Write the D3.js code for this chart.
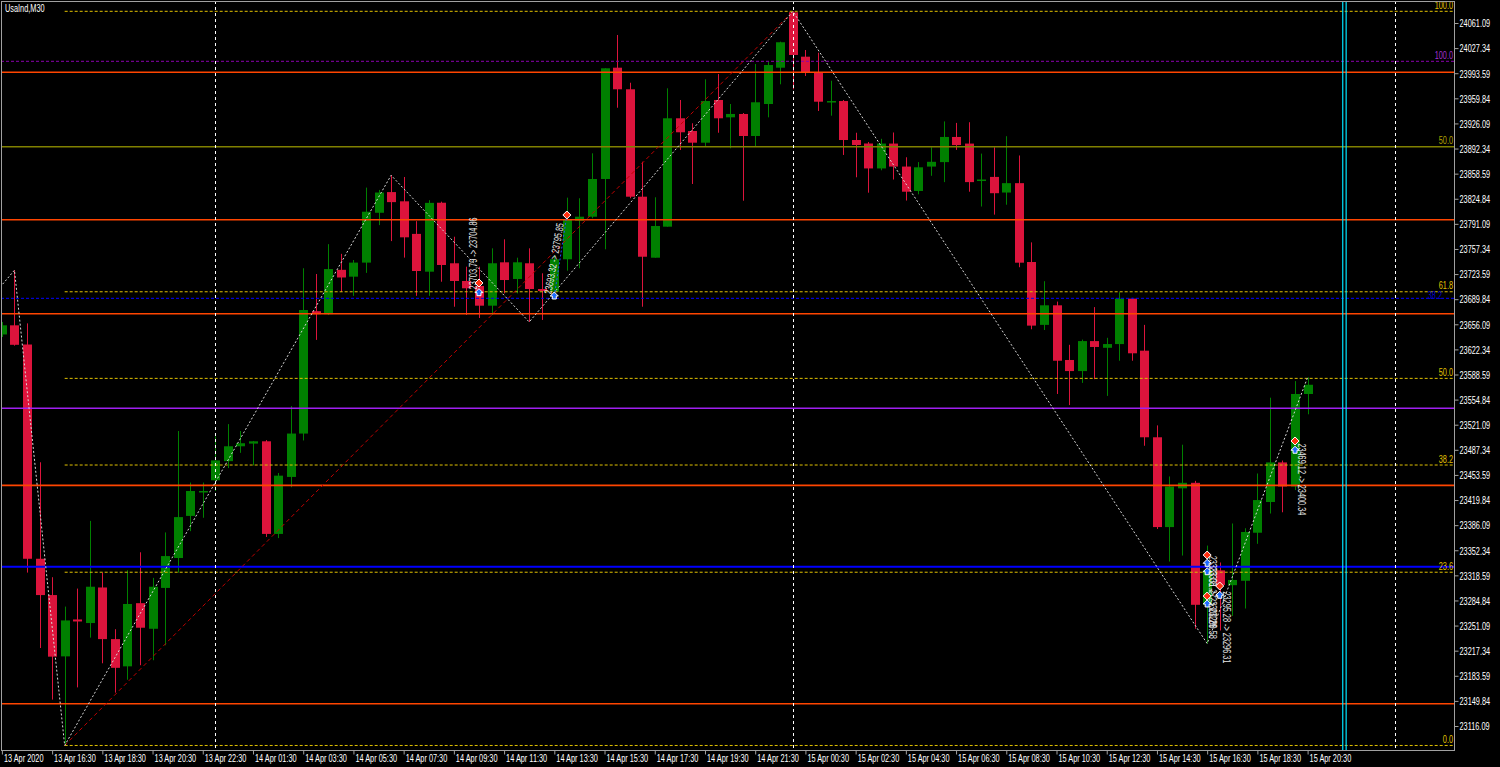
<!DOCTYPE html>
<html><head><meta charset="utf-8">
<script src="https://cdn.jsdelivr.net/npm/d3@7"></script>
<style>html,body{margin:0;padding:0;background:#000;overflow:hidden}svg{display:block}</style>
</head><body>
<svg id="chart" width="1500" height="767"></svg>
<script>
// ---------- DATA ----------
const symbolTitle = "UsaInd,M30";
const opens = [23642.4,23654.7,23628.9,23340.9,23292.1,23209.7,23259.3,23254.5,23302.3,23232.9,
23196.3,23281.2,23246.8,23301.7,23341.9,23398.5,23430.6,23446.4,23472.1,23492.1,
23495.7,23498.8,23374.3,23450.9,23509.2,23673.7,23669.7,23729.3,23720.1,23739.0,
23806.0,23833.8,23821.4,23777.6,23726.8,23819.5,23738.1,23714.3,23707.6,23681.1,
23739.4,23717.0,23738.1,23703.5,23699.9,23743.5,23795.3,23800.7,23851.4,24001.0,
23972.0,23827.6,23745.6,23787.3,23933.0,23915.9,23900.2,23957.6,23934.3,23938.8,
23909.2,23952.2,24001.0,24075.5,24015.8,23994.3,23954.5,23956.2,23903.8,23899.1,
23865.6,23899.0,23868.1,23835.3,23868.1,23874.1,23907.9,23899.0,23849.2,23854.2,
23833.2,23845.8,23739.8,23655.3,23681.6,23608.1,23593.2,23633.5,23624.5,23629.5,
23690.6,23620.6,23504.2,23383.5,23435.6,23443.0,23279.0,23325.3,23305.4,23311.3,
23375.9,23417.2,23470.4,23438.0,23562.4];
const highs = [23659.2,23728.8,23657.3,23470.6,23316.1,23276.6,23300.8,23391.8,23322.3,23246.2,
23325.4,23349.6,23315.2,23376.3,23512.6,23443.3,23443.3,23505.5,23521.9,23512.6,
23499.2,23500.4,23456.2,23546.1,23731.4,23723.7,23763.8,23750.8,23742.5,23839.8,
23836.7,23856.4,23854.1,23794.7,23822.9,23820.9,23773.8,23733.5,23733.5,23758.2,
23770.3,23745.6,23758.2,23724.6,23749.2,23826.3,23825.5,23885.9,24000.2,24045.0,
23980.8,23874.6,23826.8,23973.3,23957.6,23926.3,23985.4,23992.5,23952.2,23940.1,
24006.0,24009.1,24036.0,24076.8,24024.8,24021.2,23983.5,23957.6,23913.6,23901.1,
23905.4,23913.9,23880.6,23874.1,23894.0,23928.8,23926.8,23927.7,23885.5,23894.0,
23908.9,23883.0,23766.2,23714.0,23686.6,23628.5,23635.5,23679.2,23637.9,23699.1,
23691.6,23655.3,23520.2,23451.5,23494.2,23445.6,23358.6,23335.9,23388.3,23381.9,
23455.5,23557.4,23472.9,23579.7,23584.7];
const lows = [23639.0,23627.4,23322.3,23220.9,23151.6,23089.9,23168.0,23234.9,23200.4,23160.9,
23178.3,23197.8,23204.5,23224.6,23322.3,23378.0,23396.0,23432.0,23462.8,23483.3,
23466.4,23370.2,23368.7,23437.1,23499.9,23635.1,23668.6,23699.5,23694.3,23725.2,
23789.4,23767.9,23745.7,23694.3,23694.3,23713.3,23679.7,23668.6,23664.5,23668.6,
23697.7,23697.7,23659.2,23661.9,23697.7,23728.1,23731.4,23798.6,23756.9,23947.2,
23825.5,23679.7,23745.6,23787.3,23890.4,23844.7,23894.8,23913.6,23892.7,23822.2,
23894.8,23934.3,23978.7,23972.0,23989.9,23942.8,23936.5,23883.7,23853.7,23833.0,
23863.1,23850.7,23822.4,23830.8,23855.7,23847.2,23890.5,23834.3,23814.4,23803.5,
23816.8,23732.8,23649.4,23648.4,23562.4,23547.5,23577.3,23582.3,23559.8,23607.1,
23607.1,23492.8,23380.9,23337.2,23345.2,23246.8,23226.9,23244.5,23264.1,23274.0,
23361.0,23401.7,23403.4,23433.3,23535.1];
const closes = [23654.7,23628.5,23340.9,23292.1,23209.3,23258.0,23256.6,23303.3,23232.9,23194.3,
23280.1,23248.2,23303.3,23344.5,23396.9,23432.0,23432.0,23473.1,23492.1,23496.2,
23498.8,23374.3,23452.6,23509.2,23675.3,23669.7,23730.3,23719.0,23739.0,23807.4,
23833.2,23820.3,23773.0,23727.7,23819.3,23735.8,23714.3,23704.5,23681.1,23738.1,
23715.6,23739.4,23703.5,23700.8,23743.5,23796.3,23800.7,23851.4,24000.2,23972.0,
23827.6,23746.9,23788.2,23933.0,23914.2,23900.2,23956.2,23933.0,23938.8,23909.2,
23954.5,24004.6,24035.2,24018.1,23994.3,23955.3,23956.2,23903.8,23897.1,23865.6,
23899.0,23868.1,23834.3,23867.1,23874.5,23907.9,23897.0,23847.2,23850.7,23832.3,
23845.8,23738.9,23654.3,23681.6,23607.1,23593.2,23633.5,23625.6,23629.5,23690.6,
23617.1,23504.2,23383.5,23438.0,23443.0,23279.0,23325.8,23305.6,23312.4,23376.9,
23419.8,23470.4,23438.0,23562.4,23574.8];

const timeLabels = ["13 Apr 2020","13 Apr 16:30","13 Apr 18:30","13 Apr 20:30","13 Apr 22:30",
"14 Apr 01:30","14 Apr 03:30","14 Apr 05:30","14 Apr 07:30","14 Apr 09:30","14 Apr 11:30",
"14 Apr 13:30","14 Apr 15:30","14 Apr 17:30","14 Apr 19:30","14 Apr 21:30","15 Apr 00:30",
"15 Apr 02:30","15 Apr 04:30","15 Apr 06:30","15 Apr 08:30","15 Apr 10:30","15 Apr 12:30",
"15 Apr 14:30","15 Apr 16:30","15 Apr 18:30","15 Apr 20:30"];
const timeLabelBars = [0,4,8,12,16,20,24,28,32,36,40,44,48,52,56,60,64,68,72,76,80,84,88,92,96,100,104];

const priceTicks = [24061.09,24027.34,23993.59,23959.84,23926.09,23892.34,23858.59,23824.84,
23791.09,23757.34,23723.59,23689.84,23656.09,23622.34,23588.59,23554.84,23521.09,23487.34,
23453.59,23419.84,23386.09,23352.34,23318.59,23284.84,23251.09,23217.34,23183.59,23149.84,23116.09];

// support / resistance lines
const orangeLevels = [23994.8,23796.7,23670.3,23439.6,23146.1];
const oliveLevel = 23894.8;
const purpleLevel = 23543.2;
const blueLevel = 23330.2;
const blueDashedLevel = 23691.0;
const purpleDashedLevel = 24009.6;

// Fibonacci retracement (anchors: bar 5 low -> bar 63 high)
const fibStartBar = 5, fibEndBar = 63;
const fibLabels = ["0.0","23.6","38.2","50.0","61.8","100.0"];
const fibPrices = [23089.9,23322.8,23466.9,23583.4,23699.8,24076.8];

// zigzag
const zigBars = [-2,1,5,31,42,63,96,104];
const zigPrices = [23669.0,23728.8,23089.9,23856.4,23659.2,24076.8,23226.9,23584.7];

// vertical lines (bar positions)
const separatorBars = [17,63,111];
const cyanBars = [106.8,107.07];

// trades
const tradeMarkers = [
  {bar:38, price:23711.6, kind:"sell"},{bar:38, price:23698.6, kind:"buy"},
  {bar:44, price:23694.1, kind:"buy"},{bar:45, price:23803.0, kind:"sell"},
  {bar:96, price:23345.9, kind:"sell"},{bar:96, price:23334.8, kind:"buy"},{bar:96, price:23323.5, kind:"buy"},
  {bar:96, price:23290.8, kind:"sell"},{bar:96, price:23280.1, kind:"buy"},
  {bar:97, price:23304.3, kind:"sell"},{bar:97, price:23291.8, kind:"buy"},
  {bar:103, price:23499.2, kind:"sell"},{bar:103, price:23486.8, kind:"buy"}
];
const tradeLines = [{b1:44,p1:23694.1,b2:45,p2:23803.0}];
const tradeTexts = [
  {bar:38, price:23703.0, dx:-2, angle:-90, text:"23703.79 -> 23704.86"},
  {bar:44, price:23696.0, dx:-3, angle:-80, text:"23693.32 -> 23795.85"},
  {bar:96, price:23345.0, dx:2, angle:90, text:"23333.08 -> 23300.29"},
  {bar:96, price:23330.0, dx:2, angle:90, text:"23331.27 -> 23280.58"},
  {bar:97, price:23297.0, dx:3, angle:90, text:"23295.28 -> 23296.31"},
  {bar:103, price:23496.0, dx:3, angle:90, text:"23469.12 -> 23400.34"}
];

// ---------- DRAW ----------
const FONT = "'Liberation Sans',Arial,sans-serif";
const FS = 10.5, KX = 0.70;
// condense text horizontally (MT4-like narrow bitmap font)
function narrow(sel){
  sel.each(function(){
    const el = d3.select(this);
    const tx = +(el.attr("x")||0), ty = +(el.attr("y")||0);
    const base = el.attr("transform") || "";
    el.attr("x",0).attr("y",0).attr("dy",null)
      .attr("transform", `${base} translate(${tx},${ty}) scale(${KX},1)`);
  });
}
const BULL = "#008000", BEAR = "#dc143c";
const plot = {left:1, right:1454, top:1, bottom:750};
const svg = d3.select("#chart");
svg.append("rect").attr("width",1500).attr("height",767).attr("fill","#000");

const x = d3.scaleLinear().domain([0,104]).range([1.9,1307.6]);
const y = d3.scaleLinear().domain([23116.09,24061.09]).range([726,23]);

svg.append("defs").append("clipPath").attr("id","clip").append("rect")
  .attr("x",plot.left).attr("y",plot.top).attr("width",plot.right-plot.left).attr("height",plot.bottom-plot.top);
const g = svg.append("g").attr("clip-path","url(#clip)");

const bars = opens.map((o,i)=>({i,o,h:highs[i],l:lows[i],c:closes[i]}));

// candles
g.append("g").selectAll("line").data(bars).join("line")
  .attr("x1",d=>Math.round(x(d.i))+0.5).attr("x2",d=>Math.round(x(d.i))+0.5)
  .attr("y1",d=>y(d.h)).attr("y2",d=>y(d.l))
  .attr("stroke",d=>d.c>=d.o?BULL:BEAR).attr("stroke-width",1);
g.append("g").selectAll("rect").data(bars).join("rect")
  .attr("x",d=>Math.round(x(d.i))-4).attr("width",9)
  .attr("y",d=>y(Math.max(d.o,d.c)))
  .attr("height",d=>Math.max(1.5,Math.abs(y(d.o)-y(d.c))))
  .attr("fill",d=>d.c>=d.o?BULL:BEAR);

// horizontal lines
function hline(price, color, width, dash, x0){
  g.append("line").attr("x1",x0===undefined?plot.left:x0).attr("x2",plot.right)
   .attr("y1",y(price)).attr("y2",y(price))
   .attr("stroke",color).attr("stroke-width",width)
   .attr("stroke-dasharray",dash||null);
}
orangeLevels.forEach(p=>hline(p,"#ff4500",1.6));
hline(oliveLevel,"#808000",1.6);
hline(purpleLevel,"#a020f0",1.6);
hline(blueLevel,"#0000ff",2);
hline(blueDashedLevel,"#0000ff",1,"3,2");
hline(purpleDashedLevel,"#8b00b0",1,"3,2");

// fib levels
fibPrices.forEach(p=>hline(p,"#e0c000",1,"3,2",x(fibStartBar)));
g.append("line").attr("x1",x(fibStartBar)).attr("y1",y(fibPrices[0]))
  .attr("x2",x(fibEndBar)).attr("y2",y(fibPrices[5]))
  .attr("stroke","#c00000").attr("stroke-width",1).attr("stroke-dasharray","4,3");

// vertical separators
separatorBars.forEach(b=>{
  g.append("line").attr("x1",Math.round(x(b))+0.5).attr("x2",Math.round(x(b))+0.5)
   .attr("y1",plot.top).attr("y2",plot.bottom)
   .attr("stroke","#ffffff").attr("stroke-width",1).attr("stroke-dasharray","3,3");
});
cyanBars.forEach(b=>{
  g.append("line").attr("x1",x(b)).attr("x2",x(b)).attr("y1",plot.top).attr("y2",plot.bottom)
   .attr("stroke","#00e5ff").attr("stroke-width",1.2);
});

// zigzag
const zz = zigBars.map((b,k)=>[x(b),y(zigPrices[k])]);
g.append("path").attr("d",d3.line()(zz)).attr("fill","none")
  .attr("stroke","#d8d8d8").attr("stroke-width",1).attr("stroke-dasharray","2,2");

// level labels
const lab = svg.append("g").attr("font-family",FONT).attr("font-size",FS).attr("text-anchor","end");
fibPrices.forEach((p,k)=>lab.append("text").attr("x",plot.right-1).attr("y",y(p)-2.5)
  .attr("fill","#e0c000").text(fibLabels[k]));
lab.append("text").attr("x",plot.right-1).attr("y",y(oliveLevel)-2.5).attr("fill","#b0a000").text("50.0");
lab.append("text").attr("x",plot.right-1).attr("y",y(purpleDashedLevel)-2.5).attr("fill","#a030d0").text("100.0");
lab.append("text").attr("x",plot.right-12).attr("y",y(blueDashedLevel)+0.5).attr("fill","#0000c8").text("38.2");
narrow(lab.selectAll("text"));

// trade lines
tradeLines.forEach(t=>g.append("line").attr("x1",x(t.b1)).attr("y1",y(t.p1)).attr("x2",x(t.b2)).attr("y2",y(t.p2))
  .attr("stroke","#1e50ff").attr("stroke-width",1).attr("stroke-dasharray","2,2"));
// trade texts
const tt = svg.append("g").attr("font-family",FONT).attr("font-size",FS).attr("fill","#e8e8e8");
tradeTexts.forEach(t=>{
  tt.append("text")
    .attr("transform",`translate(${x(t.bar)+t.dx},${y(t.price)}) rotate(${t.angle})`)
    .text(t.text);
});
narrow(tt.selectAll("text"));
// markers
tradeMarkers.forEach(m=>{
  const cx = x(m.bar), cy = y(m.price);
  svg.append("path")
    .attr("d", m.kind==="sell"
      ? `M${cx},${cy-4}L${cx+4},${cy}L${cx},${cy+4}L${cx-4},${cy}Z`
      : `M${cx},${cy-4}L${cx+4},${cy}L${cx+2},${cy}L${cx+2},${cy+3}L${cx-2},${cy+3}L${cx-2},${cy}L${cx-4},${cy}Z`)
    .attr("fill", m.kind==="sell"?"#ff3010":"#1e6cff")
    .attr("stroke","#ffffff").attr("stroke-width",1);
});

// frame
svg.append("rect").attr("x",plot.left+0.5).attr("y",plot.top+0.5)
  .attr("width",plot.right-plot.left).attr("height",plot.bottom-plot.top)
  .attr("fill","none").attr("stroke","#a0a0a0").attr("stroke-width",1);

// right axis
const ya = svg.append("g").attr("transform",`translate(${plot.right+0.5},0)`)
  .call(d3.axisRight(y).tickValues(priceTicks).tickFormat(d=>d.toFixed(2)).tickSize(4).tickPadding(1));
ya.select(".domain").remove();
ya.selectAll("line").attr("stroke","#a0a0a0");
ya.selectAll("text").attr("fill","#ffffff").attr("font-family",FONT).attr("font-size",FS)
  .attr("x",5).attr("y",3.8).attr("dy",null);
narrow(ya.selectAll("text"));

// bottom axis
const xa = svg.append("g").attr("transform",`translate(0,${plot.bottom+0.5})`)
  .call(d3.axisBottom(x).tickValues(timeLabelBars).tickFormat((d,k)=>timeLabels[k]).tickSize(4));
xa.select(".domain").remove();
xa.selectAll(".tick line").attr("stroke","#a0a0a0");
xa.selectAll("text").attr("fill","#ffffff").attr("font-family",FONT).attr("font-size",FS)
  .attr("text-anchor","start").attr("x",1.5).attr("y",11.5).attr("dy",null);
narrow(xa.selectAll("text"));

// title
const title = svg.append("text").attr("x",5).attr("y",11.5).attr("fill","#ffffff")
  .attr("font-family",FONT).attr("font-size",FS).text(symbolTitle);
narrow(title);
</script>
</body></html>
